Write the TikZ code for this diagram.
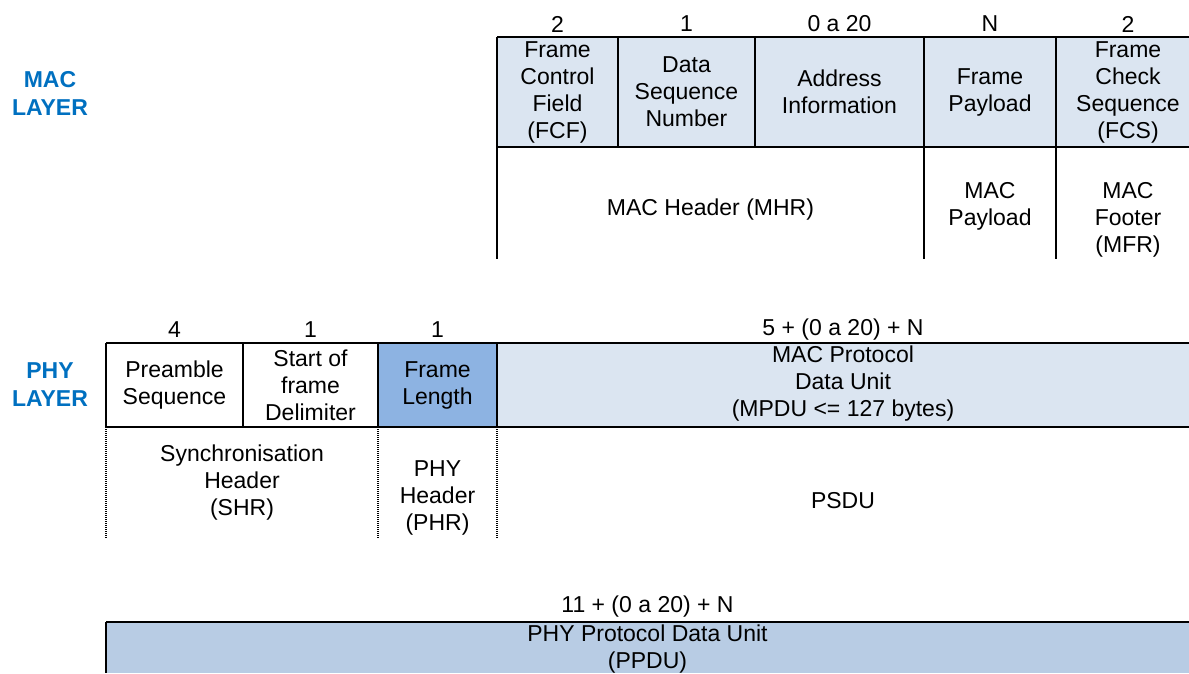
\documentclass[tikz,border=0pt]{standalone}
\usepackage{fontspec}
\setmainfont{Liberation Sans}
\definecolor{lightfill}{HTML}{DBE5F1}
\definecolor{midfill}{HTML}{8DB3E2}
\definecolor{barfill}{HTML}{B8CCE4}
\definecolor{labelblue}{HTML}{0070C0}
\tikzset{
  cell/.style={align=center, inner sep=0pt, font=\fontsize{23}{27}\selectfont},
  layerlabel/.style={align=center, inner sep=0pt, text=labelblue, font=\fontsize{23}{28}\selectfont\bfseries},
  solidline/.style={line width=2.2pt, black},
  dotline/.style={line width=2.4pt, black, dash pattern=on 1.2pt off 0.8pt}
}
\begin{document}
\begin{tikzpicture}[x=1pt,y=-1pt]
\useasboundingbox (0,0) rectangle (1189,673);
% fills
\fill[lightfill] (497,37) rectangle (1189,147);
\fill[midfill] (378,343) rectangle (497,427);
\fill[lightfill] (497,343) rectangle (1189,427);
\fill[barfill] (106,622) rectangle (1189,673);

% MAC table lines
\draw[solidline] (497,37) -- (1189,37);
\draw[solidline] (497,147) -- (1189,147);
\draw[solidline] (497,37) -- (497,259);
\draw[solidline] (618,37) -- (618,147);
\draw[solidline] (755,37) -- (755,147);
\draw[solidline] (924,37) -- (924,259);
\draw[solidline] (1056,37) -- (1056,259);

% PHY table lines
\draw[solidline] (106,343) -- (1189,343);
\draw[solidline] (106,427) -- (1189,427);
\draw[solidline] (106,343) -- (106,427);
\draw[solidline] (243,343) -- (243,427);
\draw[solidline] (378,343) -- (378,427);
\draw[solidline] (497,343) -- (497,427);
\draw[dotline] (106,427) -- (106,538);
\draw[dotline] (378,427) -- (378,538);
\draw[dotline] (497,427) -- (497,538);

% bottom bar lines
\draw[solidline] (106,622) -- (1189,622);
\draw[solidline] (106,622) -- (106,673);

% labels
\node[layerlabel] (maclabel) at (50,93) {MAC\\LAYER};
\node[layerlabel] (phylabel) at (50,385) {PHY\\LAYER};

% MAC numbers
\node[cell] (mn1) at (557.5,24) {2};
\node[cell] (mn2) at (686.5,24) {1};
\node[cell] (mn3) at (839.5,24) {0 a 20};
\node[cell] (mn4) at (990,24) {N};
\node[cell] (mn5) at (1128,24) {2};

% MAC row 1
\node[cell] (fcf) at (557.5,92) {Frame\\Control\\Field\\(FCF)};
\node[cell] (dsn) at (686.5,92) {Data\\Sequence\\Number};
\node[cell] (addr) at (839.5,92) {Address\\Information};
\node[cell] (fp) at (990,92) {Frame\\Payload};
\node[cell] (fcs) at (1128,92) {Frame\\Check\\Sequence\\(FCS)};

% MAC row 2
\node[cell] (mhr) at (710.5,210) {MAC Header (MHR)};
\node[cell] (mpl) at (990,206) {MAC\\Payload};
\node[cell] (mfr) at (1128,220) {MAC\\Footer\\(MFR)};

% PHY numbers
\node[cell] (pn1) at (174.5,330) {4};
\node[cell] (pn2) at (310.5,330) {1};
\node[cell] (pn3) at (437.5,330) {1};
\node[cell] (pn4) at (843,330) {5 + (0 a 20) + N};

% PHY row 1
\node[cell] (pre) at (174.5,385) {Preamble\\Sequence};
\node[cell] (sfd) at (310.5,385) {Start of\\frame\\Delimiter};
\node[cell] (flen) at (437.5,385) {Frame\\Length};
\node[cell] (mpdu) at (843,384) {MAC Protocol\\Data Unit\\(MPDU <= 127 bytes)};

% PHY row 2
\node[cell] (shr) at (242,483) {Synchronisation\\Header\\(SHR)};
\node[cell] (phr) at (437.5,498) {PHY\\Header\\(PHR)};
\node[cell] (psdu) at (843,501) {PSDU};

% bottom
\node[cell] (bn) at (647.5,607) {11 + (0 a 20) + N};
\node[cell] (ppdu) at (647.5,649) {PHY Protocol Data Unit\\(PPDU)};
\end{tikzpicture}
\end{document}
